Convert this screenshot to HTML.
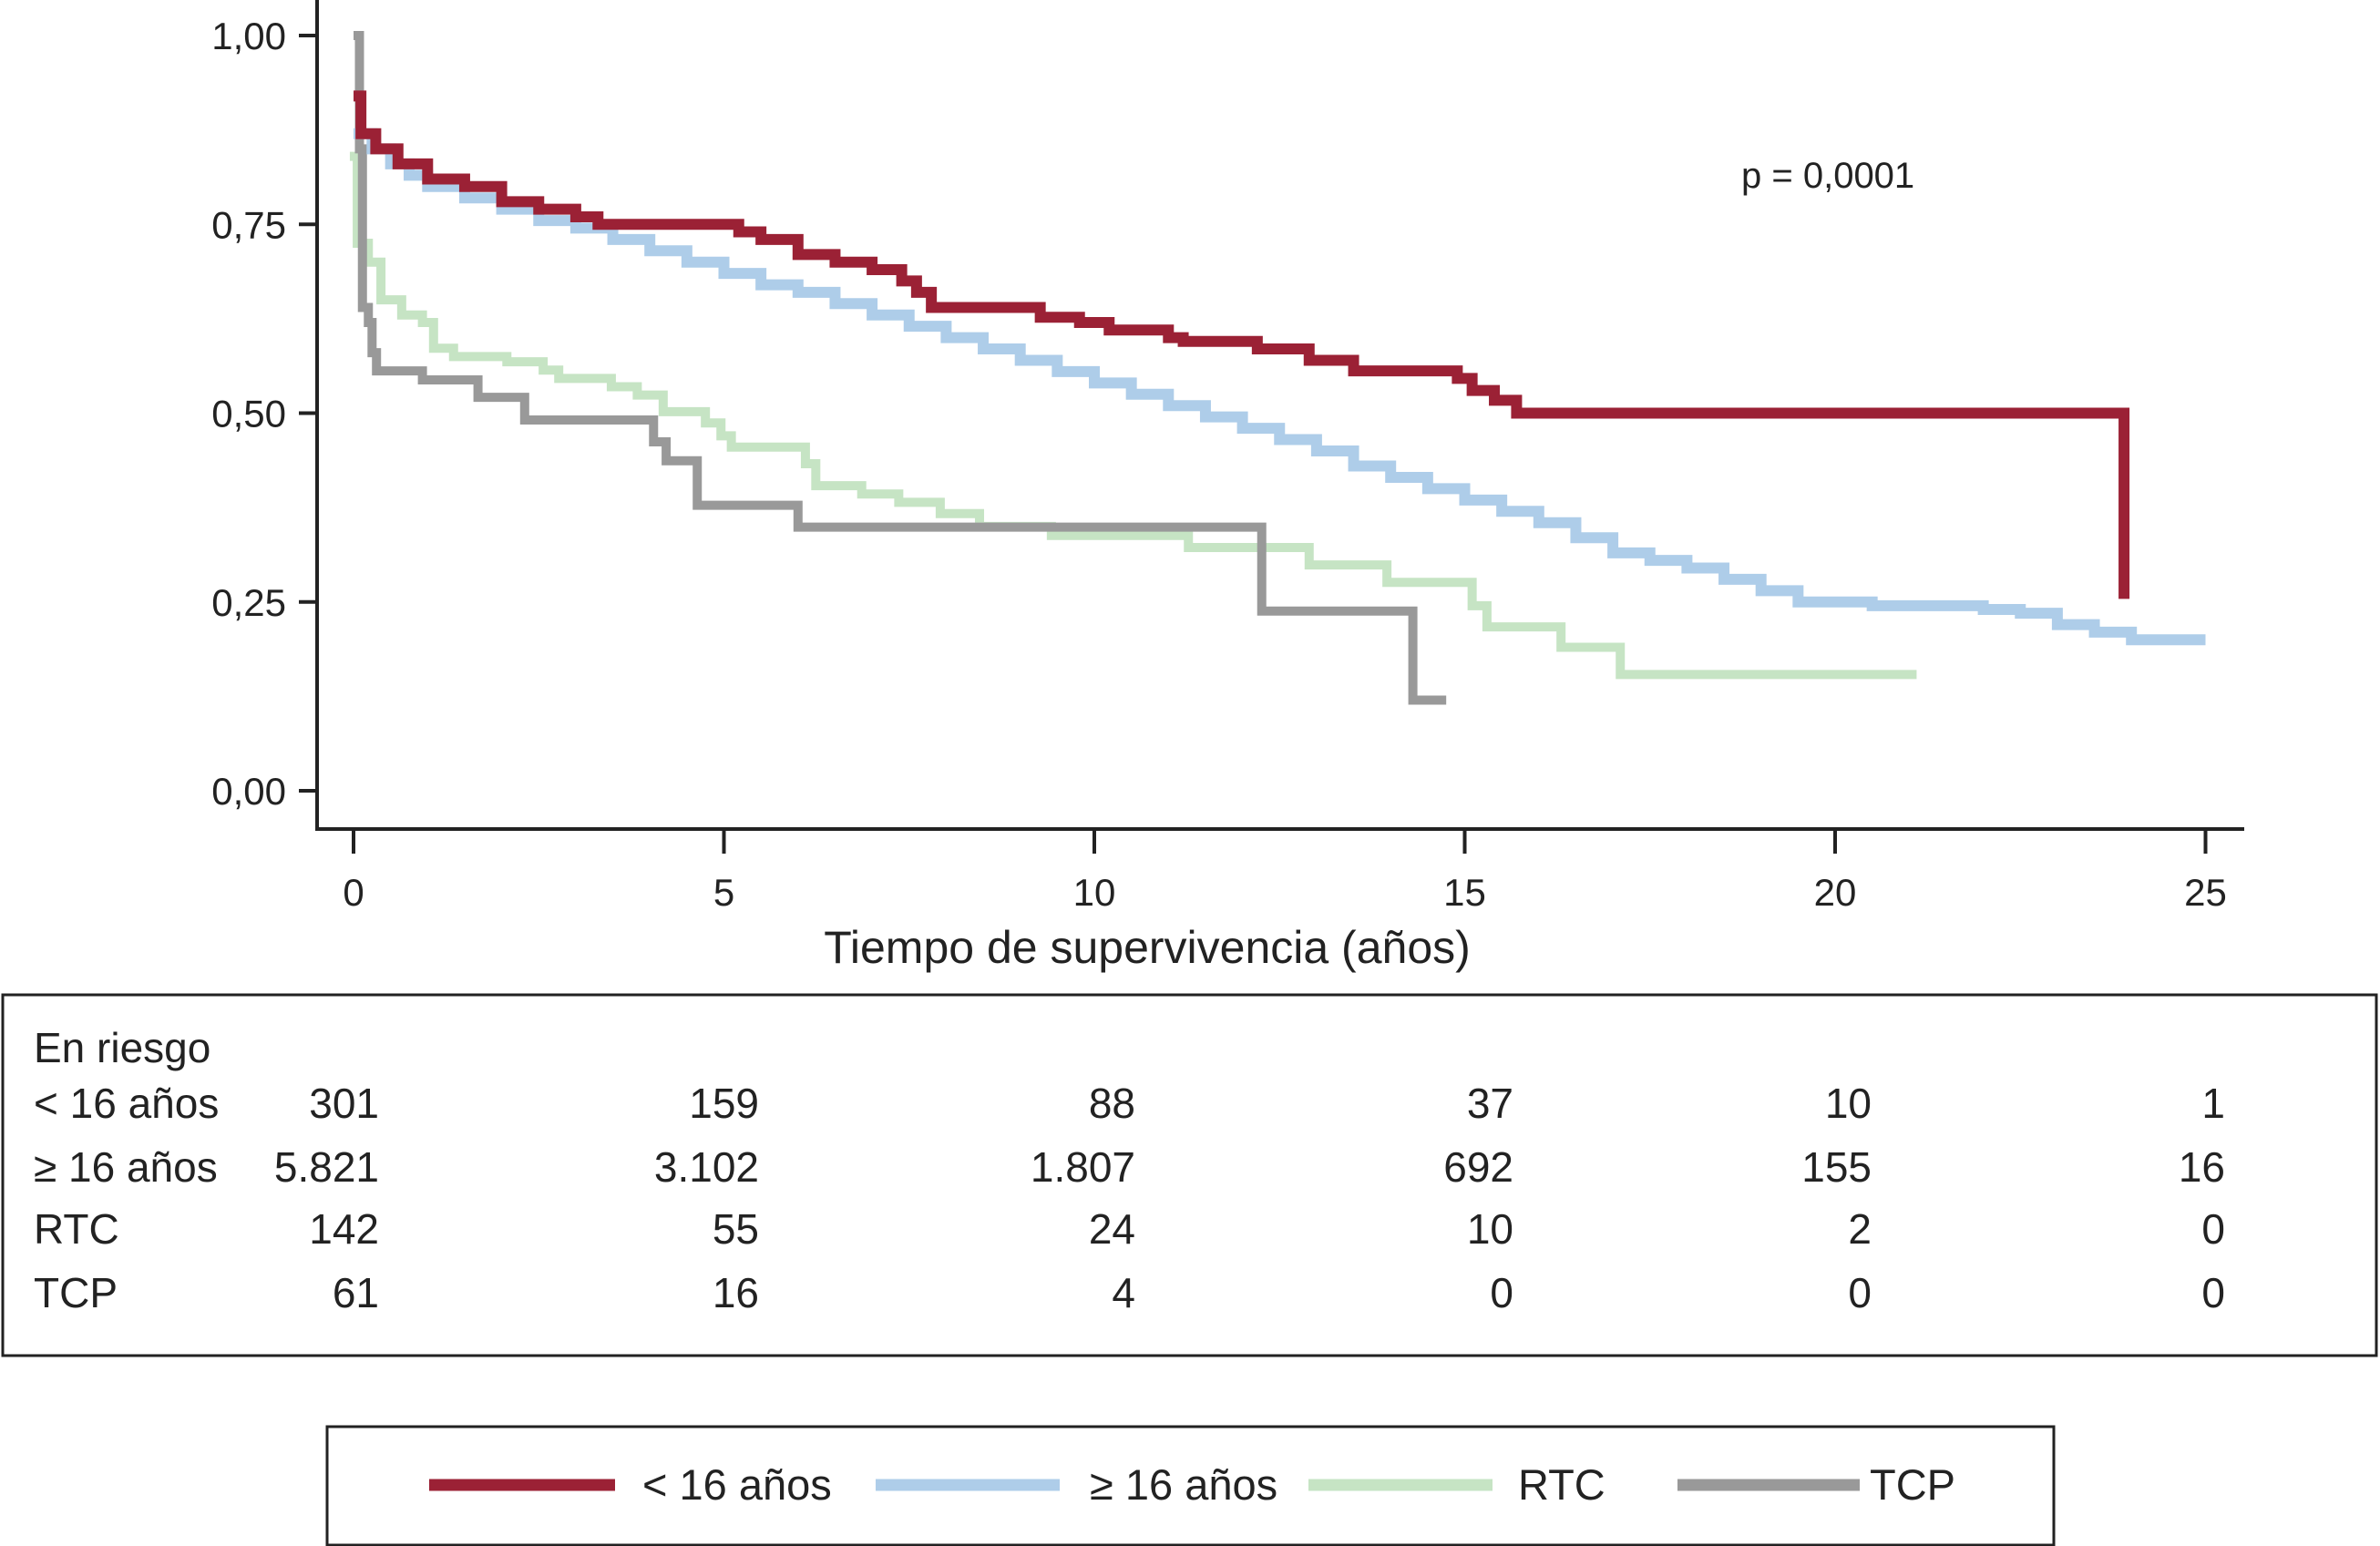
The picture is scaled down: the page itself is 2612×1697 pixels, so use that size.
<!DOCTYPE html>
<html><head><meta charset="utf-8"><style>
html,body{margin:0;padding:0;background:#fff;}
svg{display:block;font-family:"Liberation Sans",sans-serif;}
</style></head><body>
<svg id="chart" width="2612" height="1697" viewBox="0 0 2612 1697" xmlns="http://www.w3.org/2000/svg">
<g id="plot"></g>
<g id="axes"></g>
<text x="1911" y="206" font-size="40" fill="#222">p = 0,0001</text>
<text x="1259" y="1057" font-size="50" text-anchor="middle" fill="#222">Tiempo de supervivencia (años)</text>
<rect x="3" y="1092" width="2605" height="396" fill="none" stroke="#222" stroke-width="3"/>
<g id="risk"></g>
<rect x="359" y="1566" width="1895" height="130" fill="none" stroke="#222" stroke-width="3"/>
<g id="legend"></g>
</svg>
<script>
const xTicks=[0,5,10,15,20,25];
const yTicks=[0,0.25,0.5,0.75,1];
const yTickLabels=["0,00","0,25","0,50","0,75","1,00"];
const redT=[0,0.1,0.3,0.6,1.0,1.5,2.0,2.5,3.0,3.3,5.2,5.5,6.0,6.5,7.0,7.4,7.6,7.8,9.27,9.8,10.2,11.0,11.2,12.2,12.9,13.5,14.9,15.1,15.4,15.7,23.9];
const redS=[0.92,0.87,0.85,0.83,0.81,0.80,0.78,0.77,0.76,0.75,0.74,0.73,0.71,0.70,0.69,0.675,0.66,0.64,0.627,0.62,0.61,0.60,0.595,0.585,0.57,0.556,0.546,0.53,0.517,0.50,0.254];
const redEnd=23.9;
const blueT=[0,0.25,0.5,0.75,1,1.5,2,2.5,3,3.5,4,4.5,5,5.5,6,6.5,7,7.5,8,8.5,9,9.5,10,10.5,11,11.5,12,12.5,13,13.5,14,14.5,15,15.5,16,16.5,17,17.5,18,18.5,19,19.5,20,20.5,21,21.5,22,22.5,23,23.5,24,24.5];
const blueS=[0.87,0.85,0.83,0.815,0.80,0.785,0.77,0.755,0.745,0.73,0.715,0.70,0.685,0.67,0.66,0.645,0.63,0.615,0.60,0.585,0.57,0.555,0.54,0.525,0.51,0.495,0.48,0.465,0.45,0.43,0.415,0.40,0.385,0.37,0.355,0.335,0.315,0.305,0.295,0.28,0.265,0.25,0.25,0.245,0.245,0.245,0.24,0.235,0.22,0.21,0.20,0.20];
const blueEnd=25;
const greenT=[-0.05,0.05,0.2,0.37,0.65,0.93,1.08,1.35,2.07,2.56,2.77,3.48,3.83,4.18,4.75,4.96,5.1,6.1,6.24,6.86,7.36,7.92,8.45,9.42,11.27,12.9,13.95,15.1,15.3,16.3,17.1];
const greenS=[0.84,0.725,0.70,0.65,0.63,0.62,0.586,0.575,0.568,0.557,0.546,0.535,0.524,0.502,0.487,0.47,0.455,0.433,0.404,0.393,0.382,0.367,0.35,0.338,0.322,0.299,0.276,0.245,0.217,0.19,0.154];
const greenEnd=21.1;
const grayT=[0,0.08,0.12,0.2,0.25,0.31,0.93,1.68,2.31,4.05,4.22,4.64,6.0,12.26,14.3];
const grayS=[1.0,0.85,0.64,0.62,0.58,0.556,0.544,0.521,0.491,0.462,0.437,0.378,0.349,0.238,0.12];
const grayEnd=14.75;
const riskCols=[0,5,10,15,20,25];
const riskLabels=["< 16 años","≥ 16 años","RTC","TCP"];
const riskU16=["301","159","88","37","10","1"];
const riskO16=["5.821","3.102","1.807","692","155","16"];
const riskRTC=["142","55","24","10","2","0"];
const riskTCP=["61","16","4","0","0","0"];
const legendLabels=["< 16 años","≥ 16 años","RTC","TCP"];

const NS="http://www.w3.org/2000/svg";
const X=t=>388+t*81.3;
const Y=s=>868-s*829;
function mk(tag,attrs,parent){const e=document.createElementNS(NS,tag);for(const k in attrs)e.setAttribute(k,attrs[k]);parent.appendChild(e);return e;}
const plot=document.getElementById('plot'),axes=document.getElementById('axes');
function stepPath(T,S,end){let d='M'+X(T[0])+','+Y(S[0]);for(let i=1;i<T.length;i++){d+=' H'+X(T[i])+' V'+Y(S[i]);}d+=' H'+X(end);return d;}
const series=[
 ['green-rtc-curve',greenT,greenS,greenEnd,'#c6e4c4',10],
 ['gray-tcp-curve',grayT,grayS,grayEnd,'#999999',10],
 ['blue-over16-curve',blueT,blueS,blueEnd,'#aecde9',12],
 ['red-under16-curve',redT,redS,redEnd,'#9b2135',12]];
series.forEach(s=>{const p=mk('path',{d:stepPath(s[1],s[2],s[3]),fill:'none',stroke:s[4],'stroke-width':s[5],'stroke-linejoin':'miter'},plot);

});
let ya=mk('line',{x1:348,y1:0,x2:348,y2:911,stroke:'#222','stroke-width':4},axes);


let xa=mk('line',{x1:346,y1:910,x2:2463,y2:910,stroke:'#222','stroke-width':4},axes);


yTicks.forEach((v,i)=>{mk('line',{x1:328,y1:Y(v),x2:348,y2:Y(v),stroke:'#222','stroke-width':4},axes);
const t=mk('text',{x:314,y:Y(v)+15,'font-size':42,'text-anchor':'end',fill:'#222'},axes);t.textContent=yTickLabels[i];

});
xTicks.forEach(v=>{mk('line',{x1:X(v),y1:910,x2:X(v),y2:937,stroke:'#222','stroke-width':4},axes);
const t=mk('text',{x:X(v),y:994,'font-size':42,'text-anchor':'middle',fill:'#222'},axes);t.textContent=String(v);

});
const risk=document.getElementById('risk');
let h=mk('text',{x:37,y:1166,'font-size':46,fill:'#222'},risk);h.textContent='En riesgo';


const rowsY=[1227,1297,1365,1435];
const rowVals=[riskU16,riskO16,riskRTC,riskTCP];
const colX=[416,833,1246,1661,2054,2442];
riskLabels.forEach((lab,r)=>{const t=mk('text',{x:37,y:rowsY[r],'font-size':46,fill:'#222'},risk);t.textContent=lab;


rowVals[r].forEach((v,c)=>{const n=mk('text',{x:colX[c],y:rowsY[r],'font-size':46,'text-anchor':'end',fill:'#222'},risk);n.textContent=v;

});});
const leg=document.getElementById('legend');
const legCols=['#9b2135','#aecde9','#c6e4c4','#999999'];
const legLine=[[471,675,705],[961,1163,1196],[1436,1638,1666],[1841,2041,2052]];
legendLabels.forEach((l,i)=>{const g=mk('g',{},leg);


mk('line',{x1:legLine[i][0],y1:1630,x2:legLine[i][1],y2:1630,stroke:legCols[i],'stroke-width':13},g);
const t=mk('text',{x:legLine[i][2],y:1646,'font-size':47,fill:'#222'},g);t.textContent=l;});
</script>
</body></html>
